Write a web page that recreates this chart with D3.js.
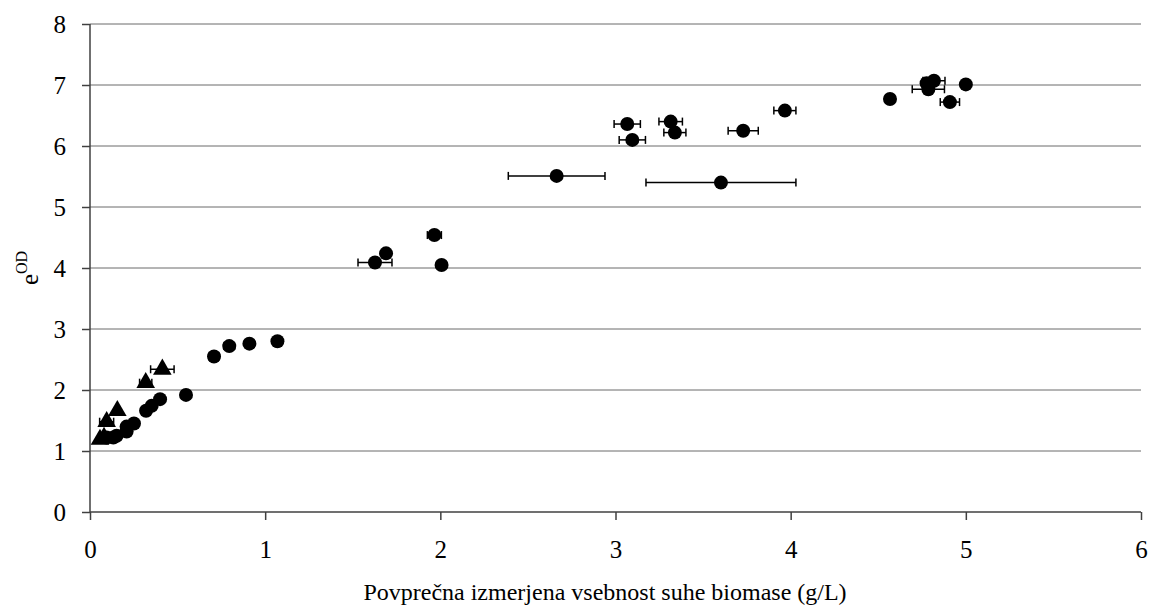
<!DOCTYPE html>
<html>
<head>
<meta charset="utf-8">
<script src="https://cdn.jsdelivr.net/npm/d3@7"></script>
<style>
  html, body { margin: 0; padding: 0; background: #fff; }
</style>
</head>
<body>
<svg id="chart" width="1151" height="610"></svg>
<script>
// Circle series: biomass (g/L), e^OD, horizontal error (g/L)
const circleX   = [0.095, 0.133, 0.152, 0.209, 0.209, 0.251, 0.320, 0.352, 0.400, 0.548,
                   0.708, 0.795, 0.910, 1.070, 1.627, 1.690, 1.966, 2.007,
                   2.664, 3.602, 3.067, 3.096, 3.315, 3.339, 3.729, 3.967,
                   4.567, 4.786, 4.776, 4.818, 4.909, 5.000];
const circleY   = [1.22, 1.22, 1.25, 1.32, 1.40, 1.45, 1.66, 1.74, 1.85, 1.92,
                   2.55, 2.72, 2.76, 2.80, 4.09, 4.24, 4.54, 4.05,
                   5.51, 5.40, 6.36, 6.10, 6.40, 6.22, 6.25, 6.58,
                   6.77, 6.93, 7.03, 7.07, 6.72, 7.01];
const circleErr = [0, 0, 0, 0, 0, 0, 0, 0, 0, 0,
                   0.03, 0.03, 0, 0, 0.097, 0, 0.04, 0,
                   0.276, 0.428, 0.075, 0.075, 0.067, 0.063, 0.086, 0.063,
                   0, 0.092, 0, 0.063, 0.055, 0];

// Triangle series
const triX   = [0.057, 0.080, 0.095, 0.156, 0.318, 0.413];
const triY   = [1.19, 1.22, 1.48, 1.66, 2.12, 2.34];
const triErr = [0, 0, 0.04, 0, 0.035, 0.067];

const xTicks = [0, 1, 2, 3, 4, 5, 6];
const yTicks = [0, 1, 2, 3, 4, 5, 6, 7, 8];
const xTitle = "Povprečna izmerjena vsebnost suhe biomase (g/L)";

const serif = "'Liberation Serif', 'Times New Roman', Times, serif";
const svg = d3.select("#chart");
const plotLeft = 90, plotRight = 1141, plotTop = 24, plotBottom = 512;

const x = d3.scaleLinear().domain([0, 6]).range([plotLeft, plotRight]);
const y = d3.scaleLinear().domain([0, 8]).range([plotBottom, plotTop]);

// horizontal gridlines
svg.append("g")
  .selectAll("line")
  .data(yTicks.filter(d => d > 0))
  .join("line")
  .attr("x1", plotLeft).attr("x2", plotRight)
  .attr("y1", d => y(d)).attr("y2", d => y(d))
  .attr("stroke", "#6a6a6a").attr("stroke-width", 1);

// axes
const xAxis = svg.append("g")
  .attr("transform", `translate(0,${plotBottom})`)
  .call(d3.axisBottom(x).tickValues(xTicks).tickFormat(d3.format("d")).tickSize(8).tickPadding(20));
const yAxis = svg.append("g")
  .attr("transform", `translate(${plotLeft},0)`)
  .call(d3.axisLeft(y).tickValues(yTicks).tickFormat(d3.format("d")).tickSize(8).tickPadding(16));

[xAxis, yAxis].forEach(g => {
  g.attr("font-family", null).attr("font-size", null);
  g.select(".domain").attr("stroke", "#404040").attr("stroke-width", 1.5);
  g.selectAll(".tick line").attr("stroke", "#404040").attr("stroke-width", 1.5);
  g.selectAll(".tick text")
    .style("font-family", serif)
    .style("font-size", "25px")
    .attr("fill", "#000");
});
xAxis.selectAll(".domain").attr("d", `M${plotLeft},0H${plotRight}`);
yAxis.selectAll(".domain").attr("d", `M0,${plotBottom}V${plotTop}`);

// error bars
function drawErrors(xs, ys, errs) {
  const g = svg.append("g").attr("stroke", "#000").attr("stroke-width", 1.5);
  xs.forEach((xv, i) => {
    const e = errs[i];
    if (!e) return;
    const cy = y(ys[i]);
    const x0 = x(xv - e), x1 = x(xv + e);
    g.append("line").attr("x1", x0).attr("x2", x1).attr("y1", cy).attr("y2", cy);
    g.append("line").attr("x1", x0).attr("x2", x0).attr("y1", cy - 4).attr("y2", cy + 4);
    g.append("line").attr("x1", x1).attr("x2", x1).attr("y1", cy - 4).attr("y2", cy + 4);
  });
}
drawErrors(circleX, circleY, circleErr);
drawErrors(triX, triY, triErr);

// circle markers
svg.append("g")
  .selectAll("circle")
  .data(circleX.map((d, i) => [d, circleY[i]]))
  .join("circle")
  .attr("cx", d => x(d[0]))
  .attr("cy", d => y(d[1]))
  .attr("r", 7)
  .attr("fill", "#000");

// triangle markers
const tri = d3.symbol().type(d3.symbolTriangle).size(150);
svg.append("g")
  .selectAll("path")
  .data(triX.map((d, i) => [d, triY[i]]))
  .join("path")
  .attr("d", tri)
  .attr("transform", d => `translate(${x(d[0])},${y(d[1])})`)
  .attr("fill", "#000");

// axis titles
svg.append("text")
  .attr("x", 605)
  .attr("y", 600)
  .attr("text-anchor", "middle")
  .style("font-family", serif)
  .style("font-size", "24px")
  .text(xTitle);

const yt = svg.append("text")
  .attr("transform", `translate(38,${(plotTop + plotBottom) / 2}) rotate(-90)`)
  .attr("text-anchor", "middle")
  .style("font-family", serif)
  .style("font-size", "25px");
yt.append("tspan").text("e");
yt.append("tspan").style("font-size", "16px").attr("dy", -11).text("OD");
</script>
</body>
</html>
